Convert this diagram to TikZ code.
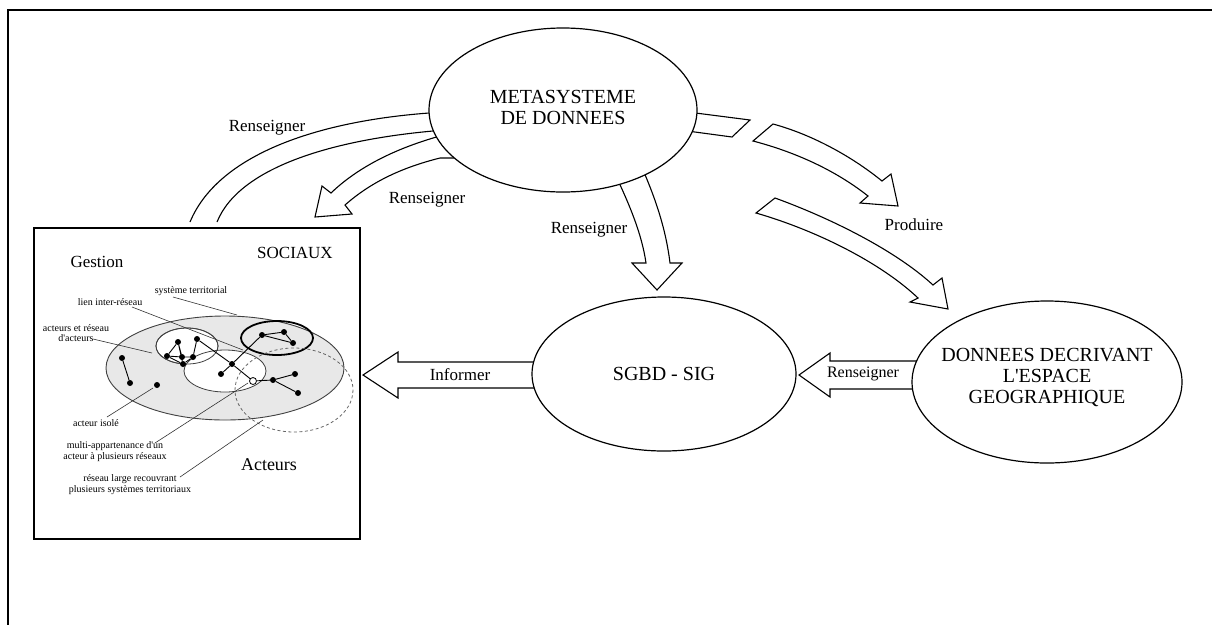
\documentclass[tikz,border=0pt]{standalone}
\usepackage{fontspec}
\setmainfont{Liberation Serif}
\usetikzlibrary{shapes.geometric,calc}
\pgfdeclarelayer{bg}
\pgfsetlayers{bg,main}
\begin{document}
\begin{tikzpicture}[x=1pt,y=-1pt,
  ell/.style={draw,ellipse,fill=white,line width=1.2pt,inner sep=0pt},
  big/.style={font=\fontsize{20}{21}\selectfont,align=center,inner sep=0pt},
  blk/.style={draw,fill=white,line width=1.1pt,line join=miter},
  lbl/.style={font=\fontsize{17}{18}\selectfont,inner sep=0pt},
  small/.style={font=\fontsize{10}{10.5}\selectfont,inner sep=0pt,align=center},
  dot/.style={circle,fill=black,inner sep=0pt,minimum size=6pt},
  odot/.style={circle,draw=black,fill=white,line width=0.8pt,inner sep=0pt,minimum size=7pt},
  edge/.style={draw=black,line width=0.9pt},
  lead/.style={draw=black!80,line width=0.6pt},
  ]
\useasboundingbox (0,0) rectangle (1212,625);
\draw[line width=2pt] (1212,10) -- (8,10) -- (8,625);

% main ellipses
\node[ell,minimum width=268pt,minimum height=164pt] (meta) at (563,110) {};
\node[big] at (563,107) {METASYSTEME\\DE DONNEES};
\node[ell,minimum width=264pt,minimum height=154pt] (sgbd) at (664,374) {};
\node[big] at (sgbd.center) {SGBD - SIG};
\node[ell,minimum width=270pt,minimum height=162pt] (donnees) at (1047,382) {};
\node[big] at (1047,377) {DONNEES DECRIVANT\\L\textquotesingle ESPACE\\GEOGRAPHIQUE};

% box
\node[draw,line width=1.2pt,minimum width=326pt,minimum height=311pt,inner sep=0pt] (box) at (197,383.5) {};

\begin{pgfonlayer}{bg}
% open band arc (Renseigner)
\draw[line width=1.1pt] (445,112) .. controls (330,118) and (220,150) .. (190,222);
\draw[line width=1.1pt] (445,130) .. controls (340,138) and (240,165) .. (217,222);
% block arrow to box
\draw[blk] (465,136) -- (440,136) .. controls (390,150) and (355,170) .. (331,193) -- (322,186) -- (315,217) -- (352,214) -- (345,205) .. controls (370,183) and (400,168) .. (440,158) -- (465,158) -- cycle;
% middle arrow to SGBD
\draw[blk] (613,170) .. controls (630,205) and (642,235) .. (646,263) -- (632,263) -- (657,290) -- (682,263) -- (670,263) .. controls (666,230) and (656,200) .. (643,170) -- cycle;
% stub
\draw[blk] (680,111) -- (750,120) -- (732,137) -- (680,130) -- cycle;
% arrow A
\draw[blk] (773,124) .. controls (810,134) and (850,155) .. (882,181) -- (891,174) -- (898,206) -- (860,203) -- (868,196) .. controls (835,170) and (795,152) .. (753,141) -- cycle;
% arrow B
\draw[blk] (775,198) .. controls (830,218) and (895,250) .. (933,285) -- (942,278) -- (948,309) -- (910,302) -- (918,298) .. controls (880,262) and (815,230) .. (756,213) -- cycle;
% Informer
\draw[blk] (363,375) -- (398,352) -- (398,362) -- (550,362) -- (550,388) -- (398,388) -- (398,398) -- cycle;
% Renseigner right
\draw[blk] (799,375) -- (830,353) -- (830,361) -- (925,361) -- (925,389) -- (830,389) -- (830,397) -- cycle;
\end{pgfonlayer}

% arrow labels
\node[lbl] at (267,128) {Renseigner};
\node[lbl] at (427,200) {Renseigner};
\node[lbl] at (589,230) {Renseigner};
\node[lbl] at (914,225) {Produire};
\node[lbl] at (460,375) {Informer};
\node[font=\fontsize{16}{17}\selectfont,inner sep=0pt] at (863,374) {Renseigner};

% box content
\node[font=\fontsize{17}{18}\selectfont,inner sep=0pt] at (97,262) {Gestion};
\node[font=\fontsize{17}{18}\selectfont,inner sep=0pt] at (295,253) {SOCIAUX};
\node[font=\fontsize{18}{19}\selectfont,inner sep=0pt] at (269,465) {Acteurs};

\draw[fill=black!9,draw=black!75,line width=0.9pt] (225,368) ellipse [x radius=119,y radius=52];
\draw[fill=white,draw=black!75,line width=0.8pt] (187,346) ellipse [x radius=31,y radius=18];
\draw[fill=white,draw=black!75,line width=0.8pt] (225,371) ellipse [x radius=41,y radius=21];
\draw[draw=black!75,line width=0.8pt] (187,346) ellipse [x radius=31,y radius=18];
\draw[line width=1.8pt] (277,338) ellipse [x radius=36,y radius=17];

\node[dot] (n1a) at (178,342) {};
\node[dot] (n1b) at (167,356) {};
\node[dot] (n1c) at (182,357) {};
\node[dot] (n1d) at (183,364) {};
\node[dot] (n1e) at (193,357) {};
\node[dot] (n1f) at (197,339) {};
\node[dot] (c1) at (232,364) {};
\node[dot] (c2) at (221,374) {};
\node[odot] (oc) at (253,381) {};
\node[dot] (t1) at (262,335) {};
\node[dot] (t2) at (284,332) {};
\node[dot] (t3) at (293,343) {};
\node[dot] (r1) at (273,380) {};
\node[dot] (r2) at (295,374) {};
\node[dot] (r3) at (298,393) {};
\node[dot] (i1) at (122,358) {};
\node[dot] (i2) at (130,383) {};
\node[dot] (i3) at (157,385) {};

\draw[edge] (n1a) -- (n1b) (n1a) -- (n1c) (n1a) -- (n1d) (n1b) -- (n1c) (n1b) -- (n1d)
  (n1c) -- (n1e) (n1d) -- (n1e) (n1e) -- (n1f) (n1f) -- (c1)
  (c1) -- (c2) (c1) -- (oc) (c1) -- (t1)
  (t1) -- (t2) (t2) -- (t3) (t1) -- (t3)
  (oc) -- (r1) (r1) -- (r2) (r1) -- (r3)
  (i1) -- (i2);

\draw[draw=black!60,line width=0.8pt,dash pattern=on 3pt off 2.5pt] (294,390) ellipse [x radius=59,y radius=42];

% small labels and leaders
\node[small] (lsys) at (191,291) {système territorial};
\node[small] (llien) at (110,302) {lien inter-réseau};
\node[small] (lact) at (76,333) {acteurs et réseau\\d\textquotesingle acteurs};
\node[small] (liso) at (96,423) {acteur isolé};
\node[small] (lmul) at (115,451.5) {multi-appartenance d\textquotesingle un\\acteur à plusieurs réseaux};
\node[small] (lres) at (130,484.5) {réseau large recouvrant\\plusieurs systèmes territoriaux};

\coordinate (psys) at (237,315);
\coordinate (plien) at (243,350);
\coordinate (pact) at (152,353);
\coordinate (piso) at (153,388);
\coordinate (pmul) at (248,383);
\coordinate (pres) at (263,420);
\draw[lead] (173,297) -- (psys);
\draw[lead] (132,307) -- (plien);
\draw[lead] (93,339) -- (pact);
\draw[lead] (107,417) -- (piso);
\draw[lead] (155,443) -- (pmul);
\draw[lead] (180,477) -- (pres);
\end{tikzpicture}
\end{document}
